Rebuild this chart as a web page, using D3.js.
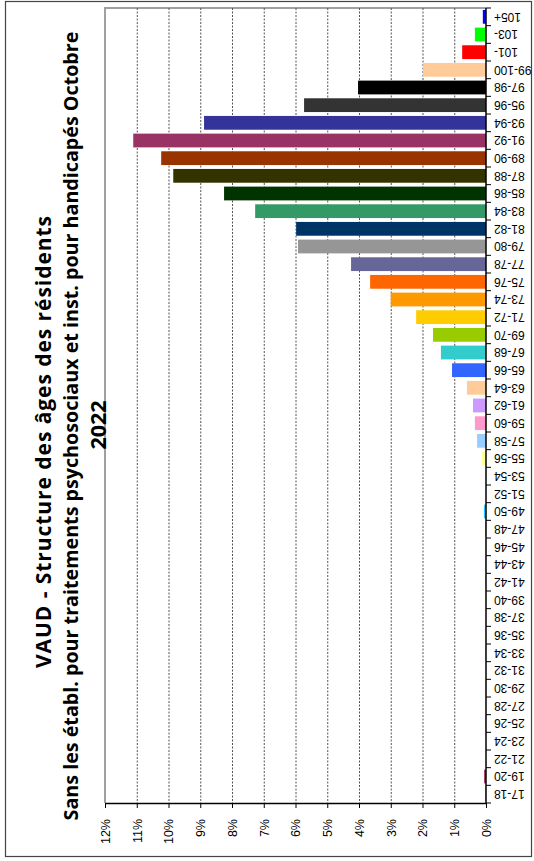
<!DOCTYPE html>
<html>
<head>
<meta charset="utf-8">
<script src="https://cdn.jsdelivr.net/npm/d3@7"></script>
<style>
  html, body { margin: 0; padding: 0; background: #fff; }
  svg { display: block; }
</style>
</head>
<body>
<svg id="chart" width="534" height="861"></svg>
<script>
// ---- Data (ordered from youngest to oldest) ----
const categories = ["17-18","19-20","21-22","23-24","25-26","27-28","29-30","31-32","33-34","35-36",
  "37-38","39-40","41-42","43-44","45-46","47-48","49-50","51-52","53-54","55-56",
  "57-58","59-60","61-62","63-64","65-66","67-68","69-70","71-72","73-74","75-76",
  "77-78","79-80","81-82","83-84","85-86","87-88","89-90","91-92","93-94","95-96",
  "97-98","99-100","101-","103-","105+"];
const values = [0.02,0.06,0.005,0.005,0.005,0.005,0.005,0.005,0.005,0.005,
  0.01,0.005,0.005,0.005,0.005,0.01,0.06,0.02,0.02,0.13,
  0.28,0.35,0.41,0.60,1.07,1.42,1.67,2.20,3.00,3.65,
  4.25,5.92,5.98,7.27,8.25,9.85,10.23,11.11,8.88,5.73,
  4.03,1.98,0.75,0.35,0.10];
const colors = ["#9999FF","#993366","#FFFFCC","#CCFFFF","#660066","#FF8080","#0066CC","#CCCCFF","#000080","#FF00FF",
  "#FFFF00","#00FFFF","#800080","#800000","#008080","#0000FF","#00CCFF","#CCFFFF","#CCFFCC","#FFFF99",
  "#99CCFF","#FF99CC","#CC99FF","#FFCC99","#3366FF","#33CCCC","#99CC00","#FFCC00","#FF9900","#FF6600",
  "#666699","#969696","#003366","#339966","#003300","#333300","#993300","#993366","#333399","#333333",
  "#000000","#FFCC99","#FF0000","#00FF00","#0000FF"];
const tickValues = [0,1,2,3,4,5,6,7,8,9,10,11,12];
const tickLabels = ["0%","1%","2%","3%","4%","5%","6%","7%","8%","9%","10%","11%","12%"];
const titleLines = [
  "VAUD - Structure des âges des résidents",
  "Sans les établ. pour traitements psychosociaux et inst. pour handicapés Octobre",
  "2022"
];

// ---- Layout ----
const svg = d3.select("#chart");
const plot = { left: 105, right: 486, top: 8, bottom: 803 };

// outer frame
svg.append("rect")
  .attr("x", 5.5).attr("y", 1.5).attr("width", 526).attr("height", 855)
  .attr("fill", "#fff").attr("stroke", "#444").attr("stroke-width", 1.2);

// value scale runs right (0%) to left (12%)
const x = d3.scaleLinear().domain([0, 12]).range([plot.right, plot.left]);
// categories run bottom (youngest) to top (oldest)
const y = d3.scaleBand().domain(categories).range([plot.bottom, plot.top]).paddingInner(0.22).paddingOuter(0.11);

// plot area border (grey, left & top)
svg.append("path")
  .attr("d", `M${plot.left},${plot.bottom} V${plot.top} H${plot.right}`)
  .attr("fill", "none").attr("stroke", "#a0a0a0").attr("stroke-width", 2);

// gridlines
svg.append("g").selectAll("line")
  .data(tickValues.filter(v => v > 0 && v < 12))
  .join("line")
  .attr("x1", d => x(d) + 0.5).attr("x2", d => x(d) + 0.5)
  .attr("y1", plot.top).attr("y2", plot.bottom)
  .attr("stroke", "#555").attr("stroke-width", 1).attr("stroke-dasharray", "2,1.5");

// bars
svg.append("g").selectAll("rect")
  .data(categories.map((c, i) => ({ c, v: values[i], col: colors[i] })))
  .join("rect")
  .attr("x", d => x(d.v))
  .attr("y", d => y(d.c))
  .attr("width", d => x(0) - x(d.v))
  .attr("height", y.bandwidth())
  .attr("fill", d => d.col);

// bottom value axis
const xAxis = d3.axisBottom(x)
  .tickValues(tickValues)
  .tickFormat((d, i) => tickLabels[i])
  .tickSize(5)
  .tickSizeOuter(0);
const gx = svg.append("g").attr("transform", `translate(0,${plot.bottom})`).call(xAxis);
gx.select(".domain").attr("stroke", "#000").attr("stroke-width", 1.5);
gx.selectAll(".tick line").attr("stroke", "#000");
gx.selectAll(".tick text")
  .attr("font-family", "'Liberation Sans', Arial, sans-serif")
  .attr("font-size", 12.5).attr("fill", "#000")
  .attr("transform", "rotate(-90)")
  .attr("text-anchor", "end")
  .attr("x", -16).attr("y", 0).attr("dy", "0.35em");

// right category axis: ticks between categories
const yBoundary = d3.scaleLinear().domain([0, categories.length]).range([plot.bottom, plot.top]);
svg.append("line")
  .attr("x1", plot.right).attr("x2", plot.right)
  .attr("y1", plot.top).attr("y2", plot.bottom)
  .attr("stroke", "#000").attr("stroke-width", 1.5);
svg.append("g").selectAll("line")
  .data(d3.range(0, categories.length + 1))
  .join("line")
  .attr("x1", plot.right).attr("x2", plot.right + 5)
  .attr("y1", d => yBoundary(d)).attr("y2", d => yBoundary(d))
  .attr("stroke", "#000");

// category labels (upside down)
svg.append("g").selectAll("text")
  .data(categories)
  .join("text")
  .attr("transform", d => `translate(${plot.right + 8},${y(d) + y.bandwidth() / 2}) rotate(180)`)
  .attr("text-anchor", "end")
  .attr("dy", "0.35em")
  .attr("font-family", "'Liberation Sans', Arial, sans-serif")
  .attr("font-size", 12)
  .attr("fill", "#000")
  .text(d => d);

// title (rotated, reading bottom to top)
const titleX = [44, 71, 98];
const titleY = [442, 426, 425];
const titleSize = [21, 19.7, 21.5];
const titleLen = [452, null, null];
const titleG = svg.append("g");
titleLines.forEach((t, i) => {
  const tt = titleG.append("text")
    .attr("transform", `translate(${titleX[i]},${titleY[i]}) rotate(-90)`)
    .attr("text-anchor", "middle")
    .attr("dy", "0.35em")
    .attr("font-family", "'Open Sans', sans-serif")
    .attr("font-weight", 700)
    .attr("font-size", titleSize[i])
    .attr("fill", "#000")
    .text(t);
  if (titleLen[i]) tt.attr("textLength", titleLen[i]).attr("lengthAdjust", "spacing");
});
</script>
</body>
</html>
